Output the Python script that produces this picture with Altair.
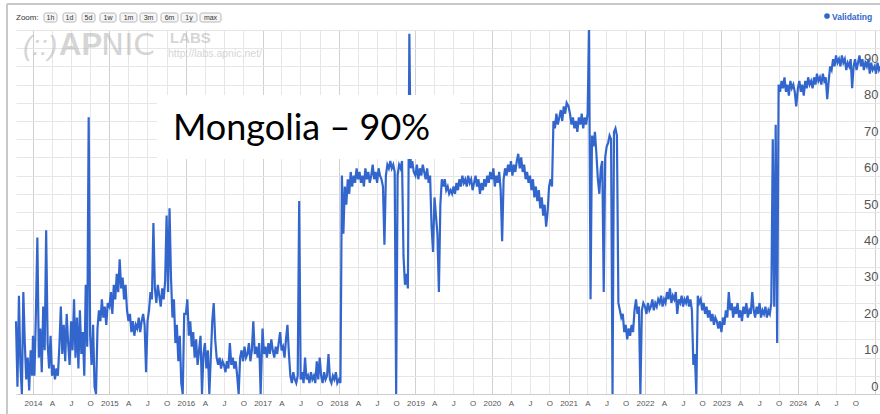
import altair as alt
import pandas as pd

# Weekly share of users validating (%), one list per calendar year
v2013 = [20, 2, 27, 8, 0, 28, 14, 4, 10, 1, 12, 5]
v2014 = [16, 5, 22, 43, 10, 18, 6, 24, 12, 45, 14, 7, 16, 5, 8, 4, 7, 5, 13, 24, 11, 19, 9, 22, 14, 8,
         20, 12, 26, 10, 21, 7, 23, 11, 17, 5, 30, 13, 76, 16, 8, 19, 2, 0, 18, 23, 20, 26, 21, 24, 19, 25]
v2015 = [24, 28, 22, 30, 26, 33, 28, 37, 29, 32, 26, 30, 23, 20, 22, 17, 20, 16, 19, 18, 21, 17, 20, 22, 19, 6,
         20, 23, 28, 26, 47, 29, 25, 30, 27, 24, 29, 26, 31, 49, 28, 51, 32, 21, 26, 14, 19, 9, 16, 3, 0, 22]
v2016 = [22, 26, 16, 20, 13, 17, 10, 15, 8, 12, 16, 0, 11, 14, 7, 12, 0, 10, 20, 25, 15, 10, 8, 10, 7, 9,
         8, 6, 9, 7, 14, 8, 10, 7, 9, 5, 0, 10, 12, 9, 13, 10, 11, 14, 9, 12, 20, 11, 13, 10, 14, 0]
v2017 = [18, 11, 13, 10, 14, 11, 15, 12, 10, 13, 11, 14, 17, 12, 13, 10, 15, 19, 11, 5, 3, 6, 4, 3, 5, 53,
         4, 6, 3, 10, 4, 5, 3, 6, 4, 5, 3, 9, 4, 10, 5, 3, 6, 4, 5, 11, 4, 3, 5, 4, 6, 3]
v2018 = [4, 3, 60, 44, 57, 52, 59, 55, 61, 57, 60, 58, 62, 59, 61, 58, 60, 57, 62, 59, 61, 58, 60, 63, 59, 61,
         58, 62, 60, 59, 57, 41, 60, 63, 62, 64, 62, 63, 61, 0, 60, 63, 62, 64, 38, 30, 33, 29, 99, 62, 64, 61]
v2019 = [60, 63, 59, 62, 60, 63, 61, 59, 62, 58, 60, 46, 39, 54, 49, 44, 28, 52, 59, 57, 59, 56, 57, 55, 56, 55,
         57, 55, 58, 56, 59, 57, 60, 58, 59, 57, 60, 58, 59, 56, 58, 60, 57, 59, 55, 58, 56, 59, 57, 60, 58, 61]
v2020 = [59, 62, 57, 60, 58, 61, 56, 42, 59, 62, 60, 63, 61, 64, 60, 63, 61, 64, 66, 62, 65, 61, 63, 59, 61, 58,
         60, 56, 59, 54, 57, 53, 56, 51, 54, 49, 52, 46, 50, 57, 59, 57, 75, 73, 77, 74, 76, 78, 75, 79, 77, 80]
v2021 = [79, 77, 74, 76, 73, 75, 72, 76, 74, 77, 73, 76, 74, 77, 100, 26, 71, 68, 72, 66, 59, 55, 62, 64, 28, 65,
         68, 69, 71, 70, 0, 72, 73, 71, 25, 23, 21, 22, 17, 19, 15, 18, 16, 19, 17, 23, 26, 22, 24, 0, 23, 25]
v2022 = [24, 22, 25, 23, 24, 26, 23, 25, 24, 26, 25, 27, 24, 26, 25, 28, 26, 29, 25, 27, 26, 28, 22, 26, 25, 27,
         24, 26, 25, 27, 24, 26, 23, 8, 11, 0, 27, 25, 26, 23, 25, 22, 24, 21, 23, 20, 22, 19, 21, 20, 18, 20]
v2023 = [17, 21, 19, 23, 21, 28, 23, 25, 21, 24, 22, 25, 21, 23, 20, 24, 22, 25, 21, 23, 22, 28, 23, 21, 24, 22,
         25, 21, 23, 22, 24, 21, 23, 22, 25, 70, 24, 74, 14, 85, 83, 86, 84, 87, 83, 85, 82, 86, 84, 85, 83, 79]
v2024 = [84, 86, 83, 85, 82, 86, 84, 87, 85, 86, 84, 87, 85, 88, 86, 87, 85, 88, 86, 87, 81, 86, 90, 89, 92, 90,
         93, 91, 92, 90, 93, 91, 92, 89, 91, 90, 92, 84, 90, 92, 89, 91, 93, 90, 92, 89, 91, 90, 92, 88, 91, 89]
v2025 = [90, 88, 91, 89, 90]

series = [
    ("2013-10-12", v2013), ("2014-01-01", v2014), ("2015-01-01", v2015), ("2016-01-01", v2016),
    ("2017-01-01", v2017), ("2018-01-01", v2018), ("2019-01-01", v2019), ("2020-01-01", v2020),
    ("2021-01-01", v2021), ("2022-01-01", v2022), ("2023-01-01", v2023), ("2024-01-01", v2024),
    ("2025-01-01", v2025),
]

DAY = 86400000


def ms(day):
    return int(pd.Timestamp(day, tz="UTC").timestamp() * 1000)


rows = []
for start, vals in series:
    t0 = ms(start)
    for j, v in enumerate(vals):
        rows.append({"t": t0 + j * 7 * DAY, "pct": v})
data = pd.DataFrame(rows)

# quarterly ticks; years are labelled in full, other quarters by month initial
tick_years = list(range(2014, 2026))
tick_months = [1, 4, 7, 10]
last_label = ms("2025-01-01")
tick_values = [ms(f"{y}-{m:02d}-01") for y in tick_years for m in tick_months if ms(f"{y}-{m:02d}-01") <= last_label]
x_domain = [ms("2013-10-12"), ms("2025-01-27")]

W, H = 864, 364
LEFT, TOP = 16, 30
BLUE = "#3366cc"
FONT = "Liberation Sans"

x_enc = alt.X(
    "t:T",
    scale=alt.Scale(type="utc", domain=x_domain),
    axis=alt.Axis(
        values=tick_values,
        labelExpr=(
            f"datum.value >= {last_label} ? '' : "
            "(utcmonth(datum.value) == 0 ? utcFormat(datum.value, '%Y') : "
            "substring(utcFormat(datum.value, '%b'), 0, 1))"
        ),
        title=None,
        grid=True,
        gridColor={"condition": {"test": "utcmonth(datum.value) == 0", "value": "#d0d0d0"}, "value": "#e6e6e6"},
        gridWidth=1,
        ticks=False,
        domainColor="#cccccc",
        labelFont=FONT,
        labelFontSize=8,
        labelColor="#555555",
        labelPadding=9,
        labelBaseline="middle",
        labelFlush=False,
        labelOverlap=False,
    ),
)
y_enc = alt.Y(
    "pct:Q",
    scale=alt.Scale(domain=[0, 100], nice=False),
    axis=alt.Axis(
        orient="right",
        values=list(range(0, 101, 5)),
        labelExpr="datum.value % 10 == 0 && datum.value < 100 ? datum.label : ''",
        title=None,
        grid=True,
        gridColor="#e6e6e6",
        ticks=False,
        domain=False,
        labelFont=FONT,
        labelFontSize=13,
        labelColor="#555555",
        labelAlign="right",
        labelBaseline="alphabetic",
        labelPadding=-2,
        labelOffset=-4,
        labelOverlap=False,
    ),
)

line = alt.Chart(data).mark_line(color=BLUE, strokeWidth=2.2, interpolate="linear").encode(x=x_enc, y=y_enc)

one = pd.DataFrame({"k": [0]})


def text_at(txt, x, y, **kw):
    """Text positioned in page pixels."""
    return alt.Chart(one).mark_text(text=txt, **kw).encode(
        x=alt.value(x - LEFT), y=alt.value(y - TOP)
    )


# faint APNIC Labs watermark
wm_style = dict(color="#b4b4b4", opacity=0.55, baseline="alphabetic", align="left")
watermark = alt.layer(
    text_at("(::)", 23, 55, font=FONT, fontSize=28, fontWeight="normal", fontStyle="italic", **wm_style),
    text_at("AP", 59, 55, font=FONT, fontSize=31, fontWeight="bold", **wm_style),
    text_at("NIC", 101, 55, font="DejaVu Sans", fontSize=31, fontWeight="normal", **wm_style),
    text_at("LABS", 170, 43, font=FONT, fontSize=15, fontWeight="bold", **wm_style),
    text_at("http://labs.apnic.net/", 168, 57, font=FONT, fontSize=10.5, **wm_style),
)

# headline box
box = alt.Chart(one).mark_rect(color="white").encode(
    x=alt.value(157 - LEFT), x2=alt.value(460 - LEFT), y=alt.value(95 - TOP), y2=alt.value(159 - TOP)
)
headline = text_at("Mongolia – 90%", 173, 140, align="left", baseline="alphabetic",
                   font="Lato", fontSize=36, color="black")

# outer frame of the chart container
frame = alt.layer(
    alt.Chart(one).mark_rule(color="#c8c8c8", strokeWidth=2).encode(
        x=alt.value(7 - LEFT), x2=alt.value(880 - LEFT), y=alt.value(4 - TOP)
    ),
    alt.Chart(one).mark_rule(color="#c8c8c8", strokeWidth=2).encode(
        x=alt.value(7 - LEFT), y=alt.value(4 - TOP), y2=alt.value(414 - TOP)
    ),
)

# range selector buttons
btn_labels = ["1h", "1d", "5d", "1w", "1m", "3m", "6m", "1y", "max"]
btn_left = [44, 63, 82, 100, 120, 140, 161, 181, 200]
btn_right = [57, 76, 95, 116, 137, 157, 178, 197, 221]
buttons = pd.DataFrame({"label": btn_labels, "x0": btn_left, "x1": btn_right})
buttons["x0"] = buttons["x0"] - LEFT
buttons["x1"] = buttons["x1"] - LEFT
buttons["xc"] = (buttons["x0"] + buttons["x1"]) / 2
btn_rect = alt.Chart(buttons).mark_rect(
    fill="#f6f6f6", stroke="#b8b8b8", strokeWidth=1, cornerRadius=2
).encode(
    x=alt.X("x0:Q", scale=None, axis=None), x2="x1:Q",
    y=alt.value(13 - TOP), y2=alt.value(22 - TOP),
)
btn_text = alt.Chart(buttons).mark_text(font=FONT, fontSize=7, color="#333333", baseline="middle").encode(
    x=alt.X("xc:Q", scale=None, axis=None), y=alt.value(17.5 - TOP), text="label:N"
)
zoom_label = text_at("Zoom:", 16, 17.5, align="left", baseline="middle", font=FONT, fontSize=8, color="#333333")

# legend
legend_dot = alt.Chart(one).mark_point(filled=True, color=BLUE, size=32, opacity=1).encode(
    x=alt.value(827 - LEFT), y=alt.value(16 - TOP)
)
legend_text = text_at("Validating", 832, 16.5, align="left", baseline="middle", font=FONT,
                      fontSize=8.5, fontWeight="bold", color=BLUE)

chart = alt.layer(
    watermark, line, box, headline, frame, btn_rect, btn_text, zoom_label, legend_dot, legend_text
).properties(
    width=W, height=H,
    autosize=alt.AutoSizeParams(type="none"),
    padding={"left": LEFT, "top": TOP, "right": 0, "bottom": 414 - TOP - H},
    background="white",
).configure_view(stroke=None)

chart.save("out.html", embed_options={"renderer": "svg", "actions": False})
